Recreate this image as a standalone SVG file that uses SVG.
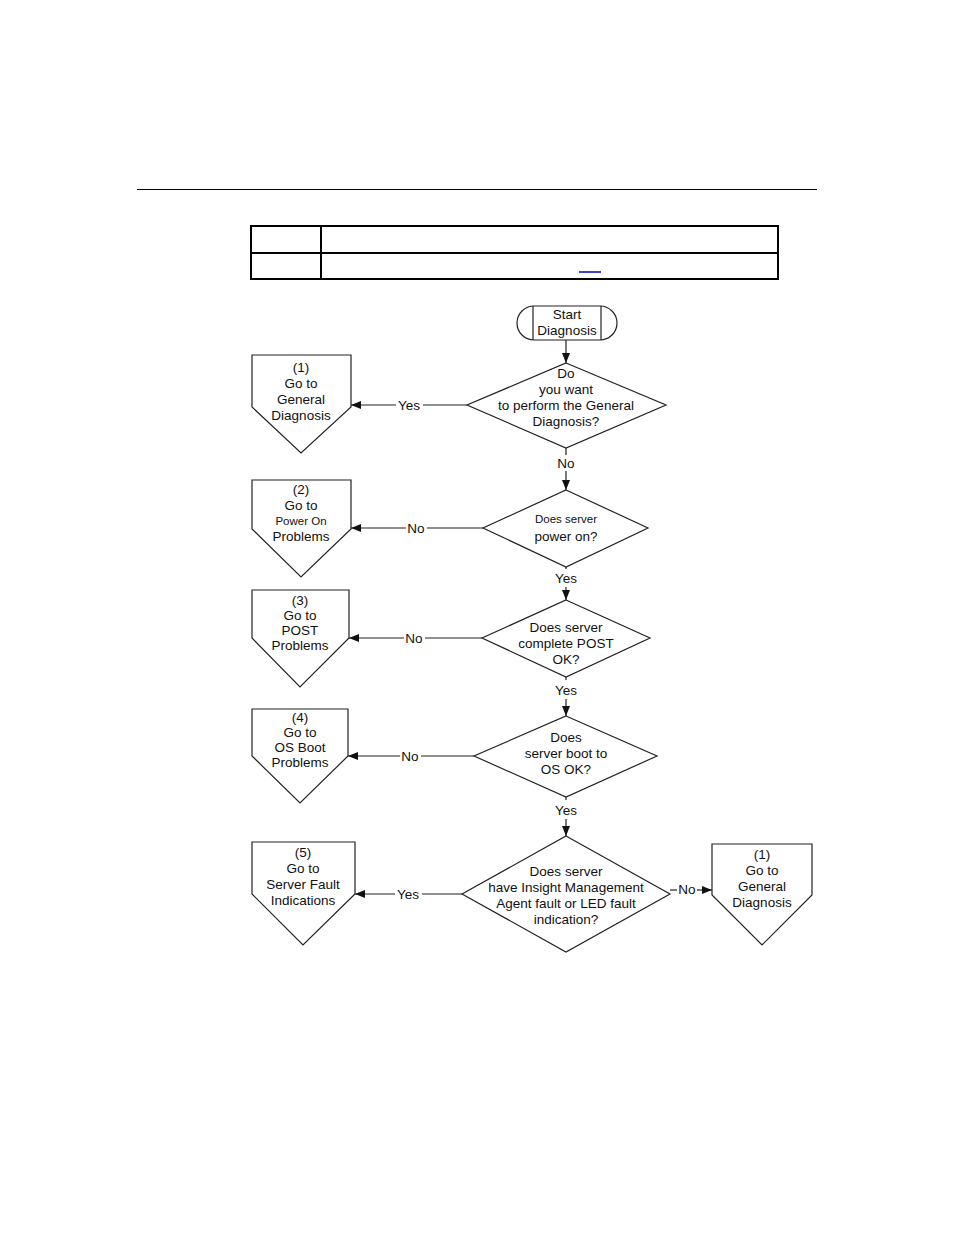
<svg xmlns="http://www.w3.org/2000/svg" width="954" height="1235" viewBox="0 0 954 1235">
<style>
.s{fill:#fff;stroke:#222;stroke-width:1.2}
.t{font-family:"Liberation Sans",Arial,sans-serif;font-size:13.5px;fill:#111;text-anchor:middle}
.sm{font-size:11.5px}
.c{fill:none;stroke:#222;stroke-width:1.2}
.tb{fill:none;stroke:#000;stroke-width:2}
</style>
<defs>
<marker id="ah" markerWidth="10" markerHeight="8" refX="10" refY="4" orient="auto" markerUnits="userSpaceOnUse">
<path d="M0,0 L10,4 L0,8 z" fill="#111"/>
</marker>
</defs>
<rect width="954" height="1235" fill="#fff"/>
<line x1="137" y1="189.5" x2="817" y2="189.5" stroke="#000" stroke-width="1"/>
<g id="table">
<rect class="tb" x="251" y="226" width="527" height="53"/>
<line class="tb" x1="251" y1="253" x2="778" y2="253"/>
<line class="tb" x1="321" y1="226" x2="321" y2="279"/>
<line x1="579" y1="272" x2="601" y2="272" stroke="#0000cc" stroke-width="1.5"/>
</g>
<g id="connectors">
<line class="c" x1="566" y1="340" x2="566" y2="363" marker-end="url(#ah)"/>
<line class="c" x1="566" y1="448" x2="566" y2="455"/>
<line class="c" x1="566" y1="471" x2="566" y2="490" marker-end="url(#ah)"/>
<text class="t" x="566" y="468">No</text>
<line class="c" x1="566" y1="567" x2="566" y2="569"/>
<line class="c" x1="566" y1="587" x2="566" y2="600" marker-end="url(#ah)"/>
<text class="t" x="566" y="583">Yes</text>
<line class="c" x1="566" y1="677" x2="566" y2="680"/>
<line class="c" x1="566" y1="699" x2="566" y2="716" marker-end="url(#ah)"/>
<text class="t" x="566" y="695">Yes</text>
<line class="c" x1="566" y1="797" x2="566" y2="800"/>
<line class="c" x1="566" y1="819" x2="566" y2="836" marker-end="url(#ah)"/>
<text class="t" x="566" y="815">Yes</text>
<line class="c" x1="467" y1="405" x2="423" y2="405"/>
<line class="c" x1="396" y1="405" x2="351" y2="405" marker-end="url(#ah)"/>
<text class="t" x="409" y="410">Yes</text>
<line class="c" x1="483" y1="528" x2="427" y2="528"/>
<line class="c" x1="406" y1="528" x2="351" y2="528" marker-end="url(#ah)"/>
<text class="t" x="416" y="533">No</text>
<line class="c" x1="482" y1="638" x2="425" y2="638"/>
<line class="c" x1="404" y1="638" x2="349" y2="638" marker-end="url(#ah)"/>
<text class="t" x="414" y="643">No</text>
<line class="c" x1="474" y1="756" x2="421" y2="756"/>
<line class="c" x1="400" y1="756" x2="348" y2="756" marker-end="url(#ah)"/>
<text class="t" x="410" y="761">No</text>
<line class="c" x1="462" y1="894" x2="422" y2="894"/>
<line class="c" x1="395" y1="894" x2="355" y2="894" marker-end="url(#ah)"/>
<text class="t" x="408" y="899">Yes</text>
<line class="c" x1="670" y1="890" x2="677" y2="890"/>
<line class="c" x1="697" y1="890" x2="712" y2="890" marker-end="url(#ah)"/>
<text class="t" x="687" y="894">No</text>
</g>
<g id="start">
<rect class="s" x="517" y="306" width="100" height="34" rx="17" ry="17"/>
<line class="c" x1="533" y1="306" x2="533" y2="340"/>
<line class="c" x1="601" y1="306" x2="601" y2="340"/>
<text class="t" x="567" y="319">Start</text>
<text class="t" x="567" y="335">Diagnosis</text>
</g>
<g id="d1">
<polygon class="s" points="566,363 666,405 566,448 467,405"/>
<text class="t" x="566" y="378">Do</text>
<text class="t" x="566" y="394">you want</text>
<text class="t" x="566" y="410">to perform the General</text>
<text class="t" x="566" y="426">Diagnosis?</text>
</g>
<g id="d2">
<polygon class="s" points="566,490 648,528 566,567 483,528"/>
<text class="t sm" x="566" y="523">Does server</text>
<text class="t" x="566" y="541">power on?</text>
</g>
<g id="d3">
<polygon class="s" points="566,600 650,638 566,677 482,638"/>
<text class="t" x="566" y="632">Does server</text>
<text class="t" x="566" y="648">complete POST</text>
<text class="t" x="566" y="664">OK?</text>
</g>
<g id="d4">
<polygon class="s" points="566,716 657,756 566,797 474,756"/>
<text class="t" x="566" y="742">Does</text>
<text class="t" x="566" y="758">server boot to</text>
<text class="t" x="566" y="774">OS OK?</text>
</g>
<g id="d5">
<polygon class="s" points="566,836 670,894 566,952 462,894"/>
<text class="t" x="566" y="876">Does server</text>
<text class="t" x="566" y="892">have Insight Management</text>
<text class="t" x="566" y="908">Agent fault or LED fault</text>
<text class="t" x="566" y="924">indication?</text>
</g>
<g id="p1">
<polygon class="s" points="252,355 351,355 351,407 301,453 252,407"/>
<text class="t" x="301" y="372">(1)</text>
<text class="t" x="301" y="388">Go to</text>
<text class="t" x="301" y="404">General</text>
<text class="t" x="301" y="420">Diagnosis</text>
</g>
<g id="p2">
<polygon class="s" points="252,480 351,480 351,529 301,577 252,529"/>
<text class="t" x="301" y="494">(2)</text>
<text class="t" x="301" y="510">Go to</text>
<text class="t sm" x="301" y="525">Power On</text>
<text class="t" x="301" y="541">Problems</text>
</g>
<g id="p3">
<polygon class="s" points="252,590 349,590 349,638 300,687 252,638"/>
<text class="t" x="300" y="605">(3)</text>
<text class="t" x="300" y="620">Go to</text>
<text class="t" x="300" y="635">POST</text>
<text class="t" x="300" y="650">Problems</text>
</g>
<g id="p4">
<polygon class="s" points="252,709 348,709 348,756 300,803 252,756"/>
<text class="t" x="300" y="722">(4)</text>
<text class="t" x="300" y="737">Go to</text>
<text class="t" x="300" y="752">OS Boot</text>
<text class="t" x="300" y="767">Problems</text>
</g>
<g id="p5">
<polygon class="s" points="252,842 355,842 355,894 303,945 252,894"/>
<text class="t" x="303" y="857">(5)</text>
<text class="t" x="303" y="873">Go to</text>
<text class="t" x="303" y="889">Server Fault</text>
<text class="t" x="303" y="905">Indications</text>
</g>
<g id="p6">
<polygon class="s" points="712,844 812,844 812,895 762,945 712,895"/>
<text class="t" x="762" y="859">(1)</text>
<text class="t" x="762" y="875">Go to</text>
<text class="t" x="762" y="891">General</text>
<text class="t" x="762" y="907">Diagnosis</text>
</g>
</svg>
